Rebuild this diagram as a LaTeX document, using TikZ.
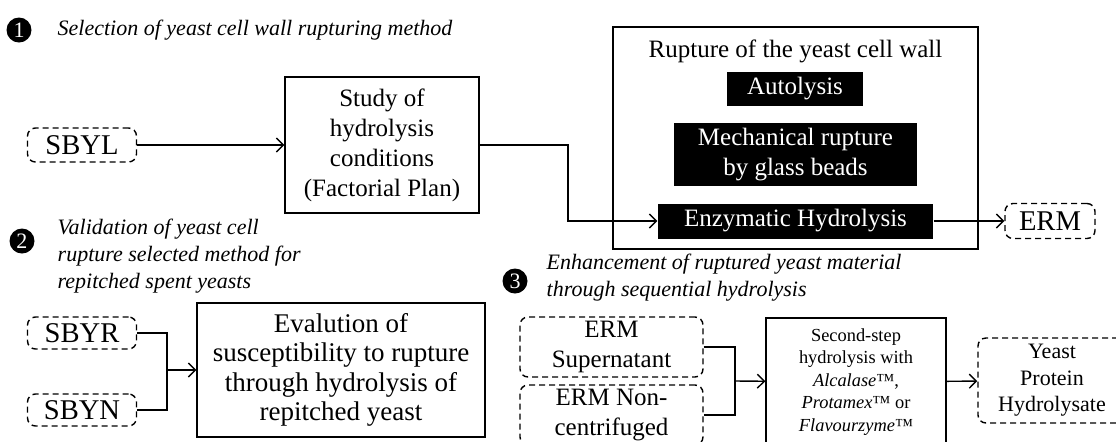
\documentclass[tikz,border=0pt]{standalone}
\usepackage{fontspec}
\setmainfont{Liberation Serif}
\usetikzlibrary{arrows.meta}
\newcommand{\mainsize}{\fontsize{12.5}{15}\selectfont}
\newcommand{\tagsize}{\fontsize{14.3}{15}\selectfont}
\newcommand{\headsize}{\fontsize{11}{13.5}\selectfont\itshape}
\newcommand{\smallsize}{\fontsize{9.2}{11.25}\selectfont}

\begin{document}
\begin{tikzpicture}[x=0.5pt, y=-0.5pt, line width=0.7pt, >={Straight Barb[length=3.5pt,width=7pt]},
		every node/.style={font=\mainsize, align=center, inner sep=0pt},
		plainbox/.style={draw, rectangle},
		inputbox/.style={draw, dash pattern=on 3pt off 2pt, rounded corners=4pt},
		methodbox/.style={fill=black, text=white},
		stepnum/.style={circle, fill=black, text=white, minimum size=12.5pt, font=\fontsize{11}{11}\selectfont},
		heading/.style={anchor=west, align=left, font=\headsize}]
		\useasboundingbox (0,0) rectangle (1116,441);
		\clip (0,0) rectangle (1116,441);
		
		\node[stepnum] (n1) at (19,30) {1};
		\node[heading] (h1) at (57,30) {Selection of yeast cell wall rupturing method};
		\node[inputbox, minimum width=54.5pt, minimum height=17pt, font=\tagsize] (sbyl) at (82,145) {SBYL};
		\node[plainbox, minimum width=97pt, minimum height=68pt] (study) at (382,145) {Study of\\ hydrolysis\\ conditions\\ (Factorial Plan)};
		\node[plainbox, minimum width=182.5pt, minimum height=111pt] (rupture) at (795.5,138) {};
		\node (rupturetitle) at (795.5,51) {Rupture of the yeast cell wall};
		\node[methodbox, minimum width=68pt, minimum height=17pt] (auto) at (795,89) {Autolysis};
		\node[methodbox, minimum width=121.5pt, minimum height=31.5pt] (mech) at (795.5,154.5) {Mechanical rupture\\ by glass beads};
		\node[methodbox, minimum width=137.5pt, minimum height=17.5pt] (enz) at (795.5,221) {Enzymatic Hydrolysis};
		\node[inputbox, minimum width=45pt, minimum height=17.5pt, font=\tagsize] (erm) at (1050,221) {ERM};
		\coordinate (bend1) at (568,145);
		
		\node[stepnum] (n2) at (22,241) {2};
		\node[heading] (h2) at (57,256) {Validation of yeast cell\\ rupture selected method for\\ repitched spent yeasts};
		\node[inputbox, minimum width=54.5pt, minimum height=16pt, font=\tagsize] (sbyr) at (82,333) {SBYR};
		\node[inputbox, minimum width=54.5pt, minimum height=16pt, font=\tagsize] (sbyn) at (82,410) {SBYN};
		\node[plainbox, minimum width=144pt, minimum height=67pt, font=\fontsize{13.5}{14.75}\selectfont] (eval) at (341,370) {Evalution of\\ susceptibility to rupture\\ through hydrolysis of\\ repitched yeast};
		\coordinate (join2) at (167,370);
		
		\node[stepnum] (n3) at (515,281) {3};
		\node[heading] (h3) at (546,278) {Enhancement of ruptured yeast material\\ through sequential hydrolysis};
		\node[inputbox, minimum width=91.5pt, minimum height=30pt] (sup) at (611.5,347) {ERM\\ Supernatant};
		\node[inputbox, minimum width=91.5pt, minimum height=30pt] (noncent) at (611.5,415) {ERM Non-\\ centrifuged};
		\node[plainbox, minimum width=90pt, minimum height=64pt, font=\smallsize] (second) at (856,382) {Second-step\\ hydrolysis with\\ \textit{Alcalase}™,\\ \textit{Protamex}™ or\\ \textit{Flavourzyme}™};
		\node[inputbox, minimum width=74pt, minimum height=42.5pt, font=\fontsize{11}{13.25}\selectfont] (yph) at (1052,380.5) {Yeast\\ Protein\\ Hydrolysate};
		\coordinate (join3) at (735,381);
		
		\path[->]
		(sbyl) edge (study)
		(enz) edge (erm)
		(join2) edge (eval)
		(join3) edge (second)
		(second) edge (yph);
		\draw[->] (study.east) -- (bend1) |- (enz.west);
		\draw (sbyr.east) -| (join2) |- (sbyn.east);
		\draw (sup.east) -| (join3) |- (noncent.east);
		
\end{tikzpicture}
\end{document}
